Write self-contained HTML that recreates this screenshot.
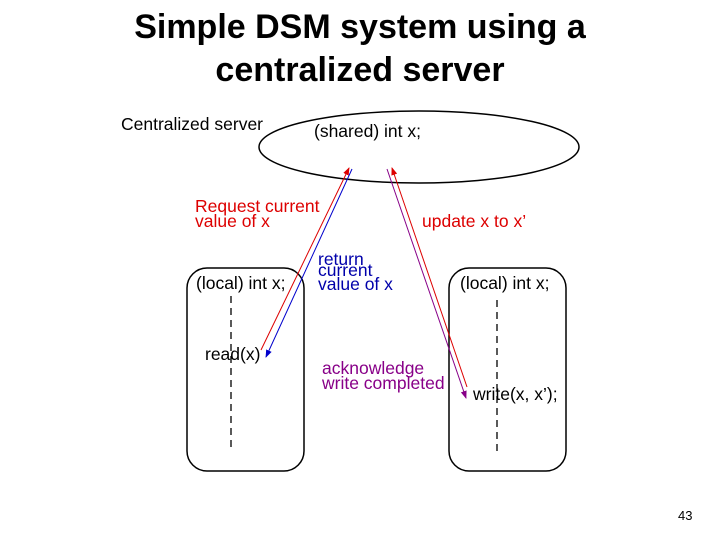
<!DOCTYPE html>
<html><head><style>
body{margin:0;width:720px;height:540px;background:#fff;overflow:hidden;font-family:"Liberation Sans",sans-serif;}
.t{position:absolute;left:0;width:720px;text-align:center;font-size:34px;font-weight:bold;line-height:43px;top:6px;color:#000}
</style></head><body>
<div class="t">Simple DSM system using a<br>centralized server</div>
<svg width="720" height="540" style="position:absolute;left:0;top:0" font-family="Liberation Sans, sans-serif">
<defs>
<marker id="r" markerWidth="8" markerHeight="8" refX="7" refY="4" orient="auto"><path d="M0,1 L8,4 L0,7z" fill="#d00"/></marker>
<marker id="b" markerWidth="8" markerHeight="8" refX="7" refY="4" orient="auto"><path d="M0,1 L8,4 L0,7z" fill="#00c"/></marker>
<marker id="p" markerWidth="8" markerHeight="8" refX="7" refY="4" orient="auto"><path d="M0,1 L8,4 L0,7z" fill="#808"/></marker>
</defs>
<ellipse cx="419" cy="147" rx="160" ry="36" fill="none" stroke="#000" stroke-width="1.5"/>
<rect x="187" y="268" width="117" height="203" rx="20" fill="none" stroke="#000" stroke-width="1.5"/>
<rect x="449" y="268" width="117" height="203" rx="20" fill="none" stroke="#000" stroke-width="1.5"/>
<line x1="231" y1="296" x2="231" y2="448" stroke="#000" stroke-width="1.3" stroke-dasharray="7,5"/>
<line x1="497" y1="300" x2="497" y2="452" stroke="#000" stroke-width="1.3" stroke-dasharray="7,5"/>
<line x1="261" y1="350" x2="349" y2="168" stroke="#d00" marker-end="url(#r)"/>
<line x1="352" y1="169" x2="266" y2="357" stroke="#00c" marker-end="url(#b)"/>
<line x1="467" y1="387" x2="392" y2="168" stroke="#d00" marker-end="url(#r)"/>
<line x1="387" y1="169" x2="466" y2="398" stroke="#808" marker-end="url(#p)"/>
<g font-size="17.5">
<text x="121" y="130" fill="#000">Centralized server</text>
<text x="314" y="137" fill="#000">(shared) int x;</text>
<text x="195" y="212" fill="#d00">Request current</text>
<text x="195" y="227" fill="#d00">value of x</text>
<text x="422" y="227" fill="#d00">update x to x’</text>
<text x="318" y="265" fill="#00a">return</text>
<text x="318" y="276" fill="#00a">current</text>
<text x="318" y="290" fill="#00a">value of x</text>
<text x="196" y="289" fill="#000">(local) int x;</text>
<text x="460" y="289" fill="#000">(local) int x;</text>
<text x="205" y="360" fill="#000">read(x)</text>
<text x="322" y="374" fill="#808">acknowledge</text>
<text x="322" y="389" fill="#808">write completed</text>
<text x="473" y="400" fill="#000">write(x, x’);</text>
</g>
<text x="678" y="520" font-size="13" fill="#000">43</text>
</svg>
</body></html>
